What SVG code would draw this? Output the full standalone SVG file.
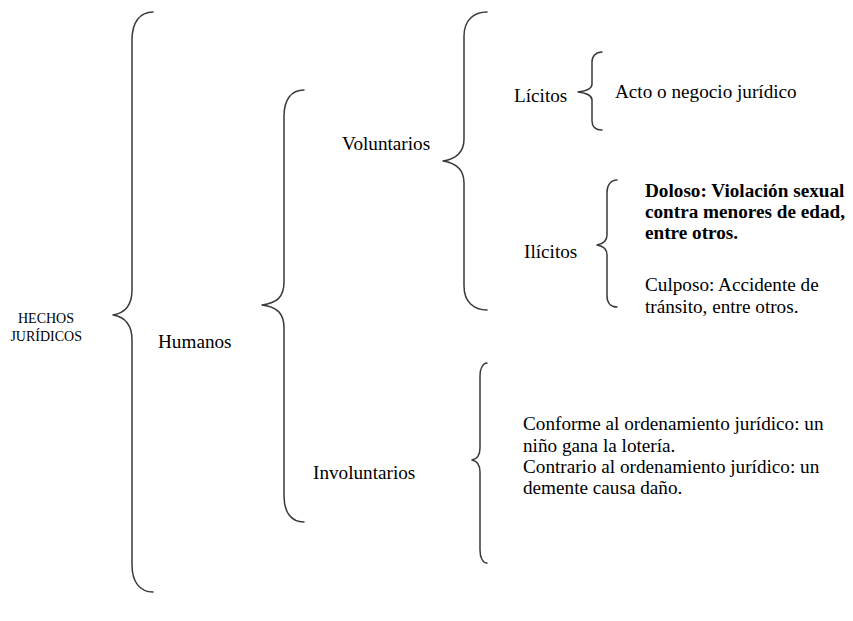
<svg xmlns="http://www.w3.org/2000/svg" width="853" height="621" viewBox="0 0 853 621">
<style>
.t{font-family:"Liberation Serif","Times New Roman",serif;font-size:19.2px;fill:#000}
.s{font-family:"Liberation Serif","Times New Roman",serif;font-size:14px;fill:#000}
.b{font-weight:bold}
.br{fill:none;stroke:#3a3a3a;stroke-width:1.5;stroke-linecap:round;stroke-linejoin:round}
</style>
<rect width="853" height="621" fill="#fff"/>
<g id="connectors">
<path class="br" d="M153,12 C140,12 132,22 132,40 L132,290 C132,305 125,313 113,315 C125,317 132,325 132,340 L132,565 C132,582 140,592 153,592"/>
<path class="br" d="M304,90 C291,90 284,100 284,116 L284,282 C284,297 277,303 262,305 C277,307 284,313 284,328 L284,496 C284,512 291,522 304,522"/>
<path class="br" d="M487,12 C474,12 464,20 464,36 L464,139 C464,152 456,159 443,161 C456,163 464,170 464,183 L464,286 C464,302 474,310 487,310"/>
<path class="br" d="M602,52 C596,52 592,56 592,62 L592,84 C592,89 586,91 578,92 C586,93 592,95 592,100 L592,121 C592,127 596,130 602,130"/>
<path class="br" d="M617,180 C611,180 607,185 607,192 L607,235 C607,241 603,244 597,245 C603,246 607,249 607,255 L607,296 C607,303 611,307 617,307"/>
<path class="br" d="M487,363 C483,363 480,368 480,376 L480,448 C480,455 477,459 472,460 C477,461 480,465 480,472 L480,550 C480,558 483,563 487,563"/>
</g>
<g id="hechos"><text class="s" x="46" y="323" text-anchor="middle">HECHOS</text><text class="s" x="82" y="341" text-anchor="end">JURÍDICOS</text></g>
<g id="humanos"><text class="t" x="158" y="348">Humanos</text></g>
<g id="voluntarios"><text class="t" x="342" y="150">Voluntarios</text></g>
<g id="involuntarios"><text class="t" x="313" y="479">Involuntarios</text></g>
<g id="licitos"><text class="t" x="514" y="102">Lícitos</text></g>
<g id="acto"><text class="t" x="615" y="98">Acto o negocio jurídico</text></g>
<g id="ilicitos"><text class="t" x="524" y="258">Ilícitos</text></g>
<g id="doloso"><text class="t b" x="645" y="197">Doloso: Violación sexual</text><text class="t b" x="645" y="218">contra menores de edad,</text><text class="t b" x="645" y="239">entre otros.</text></g>
<g id="culposo"><text class="t" x="645" y="291">Culposo: Accidente de</text><text class="t" x="645" y="313">tránsito, entre otros.</text></g>
<g id="involuntarios-ej"><text class="t" x="523" y="430">Conforme al ordenamiento jurídico: un</text><text class="t" x="523" y="452">niño gana la lotería.</text><text class="t" x="523" y="473">Contrario al ordenamiento jurídico: un</text><text class="t" x="523" y="494">demente causa daño.</text></g>
</svg>
